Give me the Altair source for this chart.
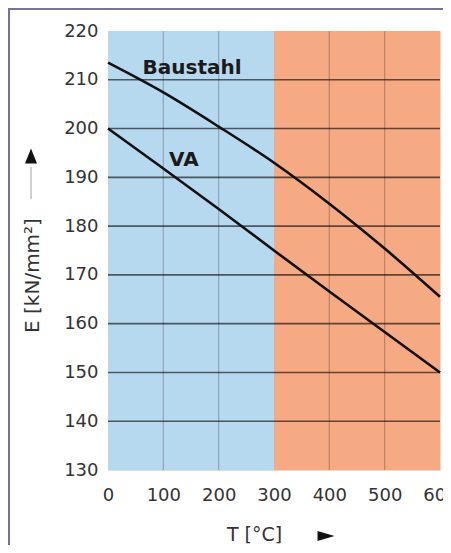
import altair as alt
import pandas as pd

# data
temps = [0, 100, 200, 300, 400, 500, 600]
baustahl = [213.5, 207.4, 200.4, 193.0, 184.6, 175.4, 165.5]
va = [200.0, 191.8, 183.5, 175.0, 166.6, 158.3, 150.0]

region_start = [0, 300]
region_end = [300, 600]
region_color = ["#b7d9f0", "#f5aa84"]

h_grid = [140, 150, 160, 170, 180, 190, 200, 210]
v_grid = [100, 200, 400, 500]
y_ticks = [130, 140, 150, 160, 170, 180, 190, 200, 210, 220]

label_text = ["Baustahl", "VA"]
label_t = [152, 137]
label_e = [212.4, 193.6]

FONT = "DejaVu Sans"
TXT = "#333333"

curves = pd.DataFrame(
    [{"T": t, "E": e, "s": "Baustahl"} for t, e in zip(temps, baustahl)]
    + [{"T": t, "E": e, "s": "VA"} for t, e in zip(temps, va)]
)
regions = pd.DataFrame({"x": region_start, "x2": region_end, "c": region_color,
                        "y": [130, 130], "y2": [220, 220]})
hg = pd.DataFrame({"E": h_grid})
vg = pd.DataFrame({"T": v_grid})
labels = pd.DataFrame({"txt": label_text, "T": label_t, "E": label_e})
one = pd.DataFrame({"k": [0]})

xs = alt.Scale(domain=[0, 600], nice=False, zero=False)
ys = alt.Scale(domain=[130, 220], nice=False, zero=False)

xaxis = alt.Axis(values=temps, grid=False, ticks=False, domain=False, labelFlush=False,
                 labelFont=FONT, labelFontSize=18, labelColor=TXT,
                 labelPadding=16, title="T [°C]", titleFont=FONT,
                 titleFontSize=19, titleFontWeight="normal", titleColor=TXT,
                 titleX=146, titleY=64, titleBaseline="middle", titleAnchor="start",
                 titleAlign="center")
yaxis = alt.Axis(values=y_ticks, grid=False, ticks=False, domain=False,
                 labelFont=FONT, labelFontSize=18, labelColor=TXT,
                 labelPadding=10, title="E [kN/mm²]", titleFont=FONT,
                 titleFontSize=20, titleFontWeight="normal", titleColor=TXT,
                 titleX=-76, titleY=244, titleBaseline="middle", titleAnchor="start",
                 titleAlign="center", titleAngle=270)

bg = alt.Chart(regions).mark_rect().encode(
    x=alt.X("x:Q", scale=xs, axis=xaxis),
    x2="x2:Q",
    y=alt.Y("y:Q", scale=ys, axis=yaxis),
    y2="y2:Q",
    color=alt.Color("c:N", scale=None),
)

vrules = alt.Chart(vg).mark_rule(color="#000000", opacity=0.22, strokeWidth=1.3).encode(
    x=alt.X("T:Q", scale=xs),
    y=alt.datum(130), y2=alt.datum(220),
)
hrules = alt.Chart(hg).mark_rule(color="#000000", opacity=0.6, strokeWidth=1.6).encode(
    y=alt.Y("E:Q", scale=ys),
    x=alt.datum(0), x2=alt.datum(600),
)

lines = alt.Chart(curves).mark_line(color="#111111", strokeWidth=2.6,
                                    interpolate="monotone").encode(
    x=alt.X("T:Q", scale=xs),
    y=alt.Y("E:Q", scale=ys),
    detail="s:N",
)

texts = alt.Chart(labels).mark_text(font=FONT, fontSize=20, fontWeight="bold",
                                    color="#1a1a1a").encode(
    x=alt.X("T:Q", scale=xs),
    y=alt.Y("E:Q", scale=ys),
    text="txt:N",
)

# title arrows
y_arrow_line = alt.Chart(one).mark_rule(color="#cfcfcf", strokeWidth=2).encode(
    x=alt.value(-77), y=alt.value(136), y2=alt.value(168)
)
y_arrow_head = alt.Chart(one).mark_point(
    shape="M -0.8 1 L 0 -1 L 0.8 1 Z", size=225, filled=True,
    color="#111111", opacity=1, strokeWidth=0
).encode(x=alt.value(-77), y=alt.value(125))
x_arrow_head = alt.Chart(one).mark_point(
    shape="M -1 -0.6 L 1 0 L -1 0.6 Z", size=289, filled=True,
    color="#111111", opacity=1, strokeWidth=0
).encode(x=alt.value(218), y=alt.value(505))

# frame (top and left edges visible)
frame = alt.Chart(one).mark_rect(fill=None, stroke="#7b6f9c", strokeWidth=2).encode(
    x=alt.value(-99), x2=alt.value(600), y=alt.value(-22), y2=alt.value(700)
)

chart = alt.layer(bg, vrules, hrules, lines, texts, y_arrow_line, y_arrow_head,
                  x_arrow_head, frame).properties(
    width=332, height=439,
    autosize=alt.AutoSizeParams(type="none"),
    padding={"left": 100, "top": 23, "right": 3, "bottom": 75},
).configure_view(stroke=None).configure(background="white")

chart.save("out.html", embed_options={"renderer": "svg", "actions": False})
